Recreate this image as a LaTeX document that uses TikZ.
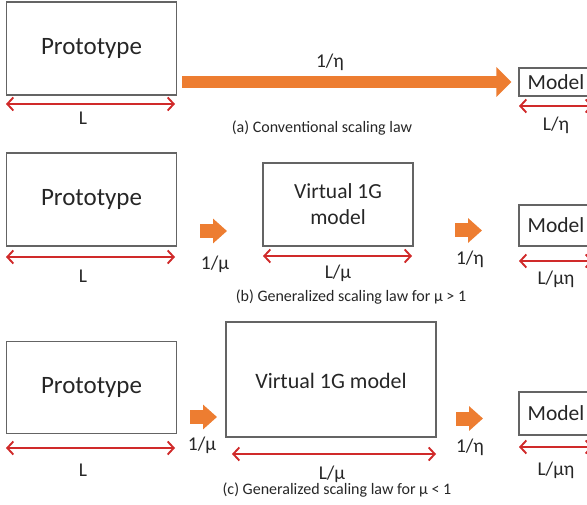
\documentclass[tikz,border=0pt]{standalone}
\usepackage{fontspec}
\setmainfont{Carlito}
\usetikzlibrary{arrows.meta}
\definecolor{boxgray}{HTML}{646464}
\definecolor{orangeA}{HTML}{ED7D31}
\definecolor{redA}{HTML}{D02A2A}
\tikzset{
  box/.style={draw=boxgray, line width=1.1pt, inner sep=0pt, align=center, font=\fontsize{21.5}{26}\selectfont, text=black!85},
  protobox/.style={box, font=\fontsize{25}{28}\selectfont},
  dim/.style={draw=redA, line width=1.7pt, {Straight Barb[length=6pt,width=13pt,line width=1.9pt]}-{Straight Barb[length=6pt,width=13pt,line width=1.9pt]}},
  bigarrow/.style={draw=orangeA, line width=12pt, -{Triangle[length=15pt,width=29pt]}},
  smallarrow/.style={draw=orangeA, line width=14pt, -{Triangle[length=14pt,width=24pt]}},
  lab/.style={inner sep=0pt, font=\fontsize{19.5}{22}\selectfont, text=black!85},
  captxt/.style={inner sep=0pt, font=\fontsize{16}{19}\selectfont, text=black!85}
}
\begin{document}
\begin{tikzpicture}[x=1pt,y=-1pt]
\useasboundingbox (0,0) rectangle (587,505);
\clip (0,0) rectangle (587,505);
% ---------- (a)
\node[protobox, minimum width=170pt, minimum height=93pt] (P1) at (91.5,48.5) {Prototype};
\node[box, minimum width=74pt, minimum height=28pt] (M1) at (556,82) {Model};
\draw[bigarrow] ([xshift=5pt]P1.east |- M1.west) -- ([xshift=-7pt]M1.west);
\node[lab] (e1) at (330,62) {1/η};
\coordinate (a1l) at (6,104); \coordinate (a1r) at (175,104);
\draw[dim] (a1l) -- (a1r);
\node[lab] (L1) at (83,118) {L};
\coordinate (m1l) at (519,106); \coordinate (m1r) at (593,106);
\draw[dim] (m1l) -- (m1r);
\node[lab] (Le1) at (556,125) {L/η};
\node[captxt] (c1) at (322,128) {(a) Conventional scaling law};
% ---------- (b)
\node[protobox, minimum width=170pt, minimum height=93pt] (P2) at (91.5,199.5) {Prototype};
\node[box, minimum width=150pt, minimum height=83pt] (V2) at (338,204.5) {Virtual 1G\\model};
\node[box, minimum width=74pt, minimum height=41pt] (M2) at (556,225.5) {Model};
\coordinate (s2a) at (200,231); \coordinate (s2b) at (227,231);
\draw[smallarrow] (s2a) -- (s2b);
\node[lab] (u2) at (215,264) {1/μ};
\coordinate (s2c) at (455,230.5); \coordinate (s2d) at (482,230.5);
\draw[smallarrow] (s2c) -- (s2d);
\node[lab] (e2) at (470,259) {1/η};
\coordinate (a2l) at (6,257); \coordinate (a2r) at (175,257);
\draw[dim] (a2l) -- (a2r);
\node[lab] (L2) at (83,276) {L};
\coordinate (v2l) at (263,256); \coordinate (v2r) at (412,256);
\draw[dim] (v2l) -- (v2r);
\node[lab] (Lu2) at (338,273) {L/μ};
\coordinate (m2l) at (519,261); \coordinate (m2r) at (593,261);
\draw[dim] (m2l) -- (m2r);
\node[lab] (Lue2) at (556,279) {L/μη};
\node[captxt] (c2) at (351,297) {(b) Generalized scaling law for μ > 1};
% ---------- (c)
\node[protobox, minimum width=170pt, minimum height=92pt] (P3) at (91.5,387.5) {Prototype};
\node[box, minimum width=210pt, minimum height=115pt] (V3) at (331,379.5) {};
\node[lab, font=\fontsize{22}{26}\selectfont] (V3t) at (331,381) {Virtual 1G model};
\node[box, minimum width=74pt, minimum height=43pt] (M3) at (556,413.5) {Model};
\coordinate (s3a) at (190,417); \coordinate (s3b) at (217,417);
\draw[smallarrow] (s3a) -- (s3b);
\node[lab] (u3) at (202,445) {1/μ};
\coordinate (s3c) at (456,418.5); \coordinate (s3d) at (483,418.5);
\draw[smallarrow] (s3c) -- (s3d);
\node[lab] (e3) at (470,447) {1/η};
\coordinate (a3l) at (6,448); \coordinate (a3r) at (175,448);
\draw[dim] (a3l) -- (a3r);
\node[lab] (L3) at (83,470) {L};
\coordinate (v3l) at (232,454); \coordinate (v3r) at (436,454);
\draw[dim] (v3l) -- (v3r);
\node[lab] (Lu3) at (332,474) {L/μ};
\coordinate (m3l) at (519,447); \coordinate (m3r) at (593,447);
\draw[dim] (m3l) -- (m3r);
\node[lab] (Lue3) at (556,470) {L/μη};
\node[captxt] (c3) at (337,490) {(c) Generalized scaling law for μ < 1};
\end{tikzpicture}
\end{document}
